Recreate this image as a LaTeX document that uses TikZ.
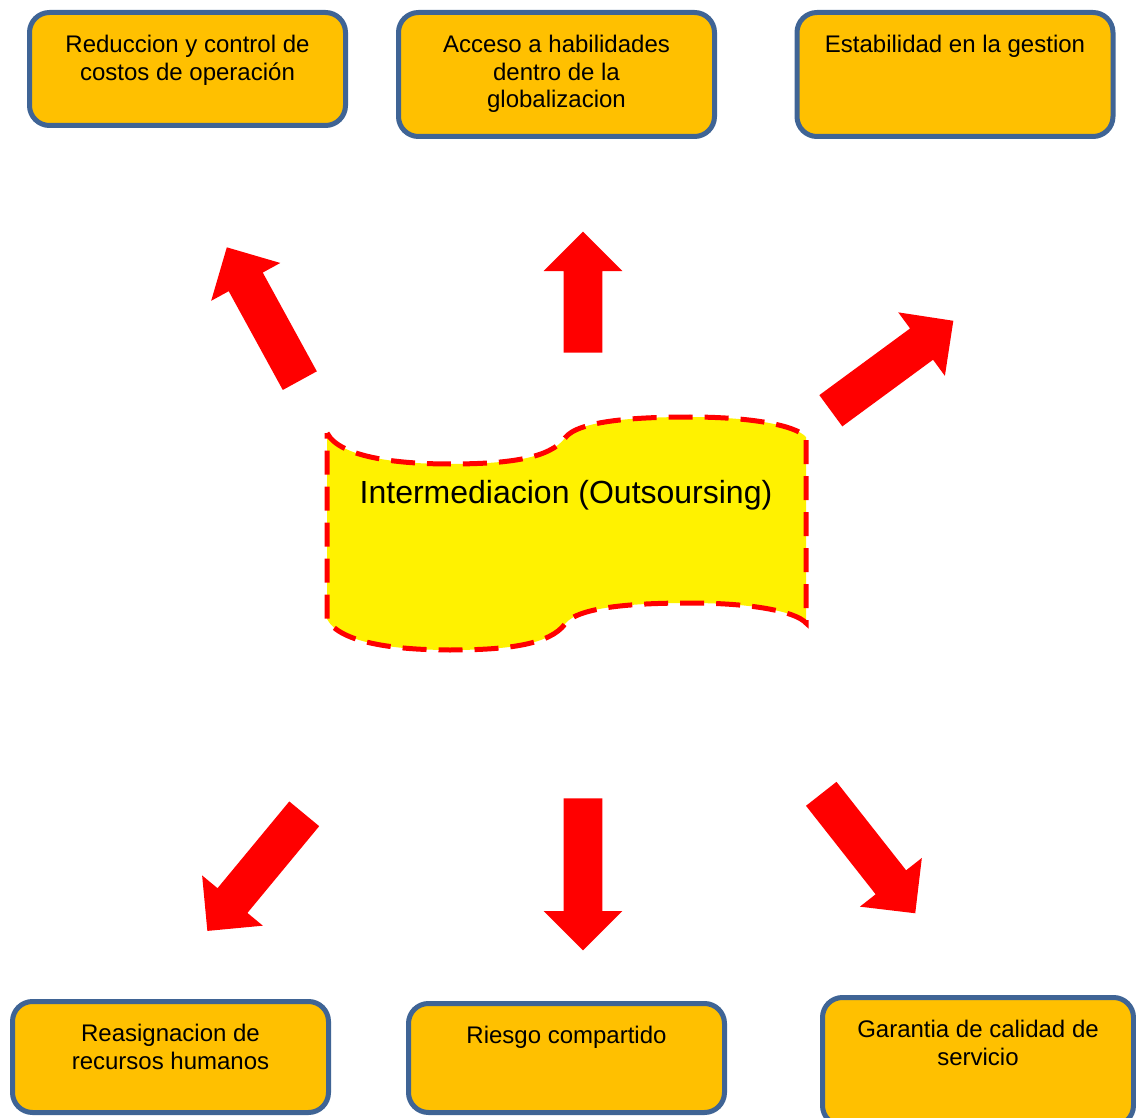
\documentclass[tikz,border=0pt]{standalone}
\usepackage{fontspec}
\setmainfont{Liberation Sans}
\usetikzlibrary{shapes.arrows}

\definecolor{boxfill}{HTML}{FFC000}
\definecolor{boxline}{HTML}{3F6495}

% text at the top of a box: height, width, lines
\newcommand{\boxtext}[3]{\parbox[t][#1][t]{#2}{\centering #3}}

\tikzset{
  goal/.style={draw=boxline, fill=boxfill, line width=2.5pt, rounded corners=10pt,
    anchor=north west, outer sep=0pt, inner xsep=4pt, inner ysep=11.5pt,
    font=\fontsize{12}{13.75}\selectfont},
  bigarrow/.style={single arrow, fill=red, inner xsep=0pt, inner ysep=9.5pt,
    single arrow head extend=10pt, minimum height=76pt, anchor=tail},
  wave/.style={draw=red, fill=yellow, line width=2.5pt, dash pattern=on 12pt off 6pt}
}

\begin{document}
\begin{tikzpicture}[x=0.5pt,y=-0.5pt]
   \useasboundingbox (0,0) rectangle (1136,1118);

   % boxes
   \node[goal] (costos)  at (29.5,12.5)   {\boxtext{33.5pt}{150pt}{Reduccion y control de\\costos de operación}};
   \node[goal] (habil)   at (398.5,12.5)  {\boxtext{39pt}{150pt}{Acceso a habilidades\\dentro de la\\globalizacion}};
   \node[goal] (gestion) at (797,12.5)    {\boxtext{39pt}{150pt}{Estabilidad en la gestion}};
   \node[goal] (rrhh)    at (12.5,1001.5) {\boxtext{32.5pt}{150pt}{Reasignacion de\\recursos humanos}};
   \node[goal] (riesgo)  at (408.5,1003.5){\boxtext{31.5pt}{150pt}{Riesgo compartido}};
   \node[goal] (calidad) at (822.5,997.5) {\boxtext{41pt}{147.5pt}{Garantia de calidad de\\servicio}};

   % center wave
   \draw[wave] (327,433) .. controls (340,458) and (400,464) .. (450,464)
      .. controls (510,464) and (550,458) .. (565,438)
      .. controls (578,420) and (640,417) .. (690,417)
      .. controls (750,417) and (795,425) .. (806,437)
      -- (806,623)
      .. controls (795,611) and (750,603) .. (690,603)
      .. controls (640,603) and (578,606) .. (565,624)
      .. controls (550,644) and (510,650) .. (450,650)
      .. controls (400,650) and (340,644) .. (327,619) -- cycle;
   \node[font=\fontsize{16}{19}\selectfont] (outsourcing) at (566,495) {Intermediacion (Outsoursing)};

   % arrows
   \node[bigarrow, rotate=118.7] (a1) at (300,381) {};
   \node[bigarrow, rotate=90, minimum height=60.5pt] (a2) at (583,353) {};
   \node[bigarrow, rotate=36.3] (a3) at (830.5,411) {};
   \node[bigarrow, rotate=230.4] (a4) at (304.5,813.5) {};
   \node[bigarrow, rotate=270] (a5) at (583,798) {};
   \node[bigarrow, rotate=-51.8] (a6) at (821,793.5) {};
\end{tikzpicture}
\end{document}
